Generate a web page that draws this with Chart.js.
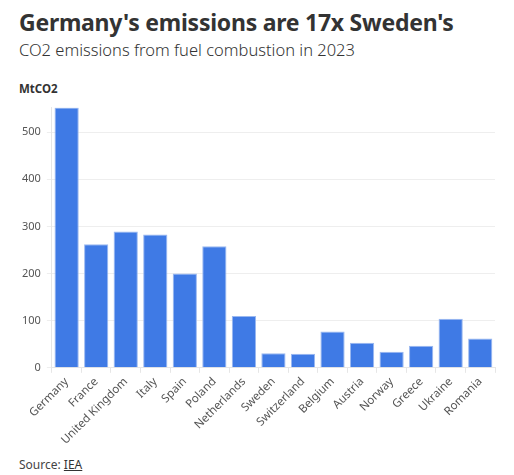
<!DOCTYPE html>
<html>
<head>
<meta charset="utf-8">
<script src="https://cdn.jsdelivr.net/npm/chart.js@4"></script>
<style>
  html, body { margin: 0; padding: 0; background: #fff; }
  body { width: 514px; height: 475px; position: relative; overflow: hidden; font-family: "Noto Sans", sans-serif; color: #333; }
  #title { position: absolute; left: 19px; top: 6px; font-size: 23px; font-weight: 700; color: #333; letter-spacing: -0.25px; }
  #subtitle { position: absolute; left: 19px; top: 38px; font-size: 16.5px; font-weight: 300; color: #333; }
  #unit { position: absolute; left: 19px; top: 81px; font-size: 11.5px; font-weight: 700; color: #333; }
  #wrap { position: absolute; left: 8px; top: 95px; width: 494px; height: 354px; }
  #source { position: absolute; left: 19px; top: 456px; font-size: 12px; color: #444; }
  #source a { color: #333; text-decoration: underline; }
</style>
</head>
<body>
<div id="title">Germany's emissions are 17x Sweden's</div>
<div id="subtitle">CO2 emissions from fuel combustion in 2023</div>
<div id="unit">MtCO2</div>
<div id="wrap"><canvas id="chart"></canvas></div>
<div id="source">Source: <a>IEA</a></div>
<script>
// 各国 2023 年燃料燃烧 CO2 排放（MtCO2）
const countries = ['Germany', 'France', 'United Kingdom', 'Italy', 'Spain', 'Poland', 'Netherlands',
  'Sweden', 'Switzerland', 'Belgium', 'Austria', 'Norway', 'Greece', 'Ukraine', 'Romania'];
const emissions = [552, 262, 289, 283, 200, 258, 110, 31, 30, 77, 53, 34, 47, 104, 62];
const yTicks = [0, 100, 200, 300, 400, 500];

const ctx = document.getElementById('chart');
new Chart(ctx, {
  type: 'bar',
  data: {
    labels: countries,
    datasets: [{
      label: 'MtCO2',
      data: emissions,
      backgroundColor: '#3f7ae5',
      borderColor: '#9ab8f0',
      borderWidth: 1,
      barPercentage: 0.82,
      categoryPercentage: 1,
    }]
  },
  options: {
    responsive: true,
    maintainAspectRatio: false,
    animation: false,
    layout: { padding: { top: 8, right: 7, left: 8, bottom: 0 } },
    plugins: {
      legend: { display: false },
      tooltip: { enabled: false },
    },
    scales: {
      y: {
        min: 0,
        max: Math.max(...emissions),
        afterBuildTicks: (axis) => {
          axis.ticks = yTicks.map((v) => ({ value: v }));
        },
        ticks: { color: '#555', font: { family: 'Noto Sans', size: 11 }, padding: 6 },
        grid: { color: '#eeeeee', tickLength: 5 },
        border: { color: '#e6e6e6' },
      },
      x: {
        ticks: { color: '#555', font: { family: 'Noto Sans', size: 11.5 }, maxRotation: 45, minRotation: 45, padding: 2 },
        grid: { display: true, drawOnChartArea: false, color: '#e6e6e6', tickLength: 5 },
        border: { color: '#e6e6e6' },
      }
    }
  }
});
</script>
</body>
</html>
